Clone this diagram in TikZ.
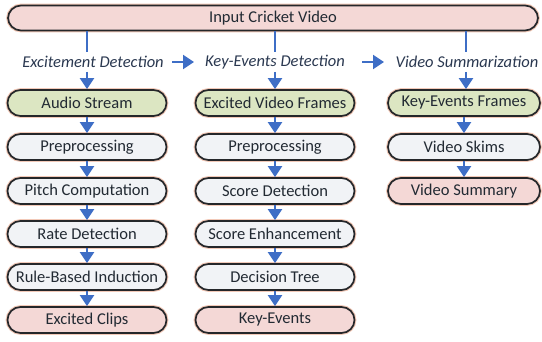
\documentclass[tikz,border=0pt]{standalone}
\usepackage{fontspec}
\setmainfont{Carlito}
\usetikzlibrary{arrows.meta}
\definecolor{boxline}{HTML}{25272A}
\definecolor{txt}{HTML}{222A33}
\definecolor{hdr}{HTML}{2A3850}
\definecolor{arr}{HTML}{3E6EC6}
\definecolor{fgreen}{HTML}{DCE6C2}
\definecolor{fpink}{HTML}{F4D8D6}
\definecolor{fgrey}{HTML}{F1F3F6}
\definecolor{halo}{HTML}{F2C9B8}
\tikzset{
  stepbox/.style={draw=boxline, line width=1.7pt, rounded corners=13pt, minimum width=159pt, minimum height=26pt, inner sep=0pt, text=txt, font=\fontsize{16.5}{17}\selectfont, fill=fgrey,
    preaction={draw=halo, line width=3.8pt}},
  greenbox/.style={stepbox, fill=fgreen},
  pinkbox/.style={stepbox, fill=fpink},
  hdrlabel/.style={text=hdr, font=\fontsize{16.5}{17}\selectfont\itshape, inner sep=0pt},
  flow/.style={draw=arr, line width=2pt, -{Triangle[width=14pt,length=11pt]}},
  plain/.style={draw=arr, line width=1.6pt},
}
\begin{document}
\begin{tikzpicture}[x=1pt,y=-1pt]
\useasboundingbox[fill=white] (0,0) rectangle (542,342);
\node[pinkbox, minimum width=530pt, minimum height=25pt] (top) at (273,18) {Input Cricket Video};
% headers
\node[hdrlabel] (h1) at (93,62) {Excitement Detection};
\node[hdrlabel] (h2) at (275,62) {Key-Events Detection};
\node[hdrlabel] (h3) at (467,62) {Video Summarization};
% column 1
\node[greenbox] (a1) at (87,103) {Audio Stream};
\node[stepbox] (a2) at (87,147) {Preprocessing};
\node[stepbox] (a3) at (87,191) {Pitch Computation};
\node[stepbox] (a4) at (87,234) {Rate Detection};
\node[stepbox] (a5) at (87,277) {Rule-Based Induction};
\node[pinkbox] (a6) at (87,320) {Excited Clips};
% column 2
\node[greenbox] (b1) at (275,103) {Excited Video Frames};
\node[stepbox] (b2) at (275,147) {Preprocessing};
\node[stepbox] (b3) at (275,191) {Score Detection};
\node[stepbox] (b4) at (275,234) {Score Enhancement};
\node[stepbox] (b5) at (275,277) {Decision Tree};
\node[pinkbox] (b6) at (275,320) {Key-Events};
% column 3
\node[greenbox, minimum width=152pt] (c1) at (464,103) {Key-Events Frames};
\node[stepbox, minimum width=152pt] (c2) at (464,147) {Video Skims};
\node[pinkbox, minimum width=152pt] (c3) at (464,191) {Video Summary};
% top connectors
\coordinate (t1) at (87,52);
\coordinate (t2) at (275,52);
\coordinate (t3) at (466,52);
\coordinate (s1) at (87,72);
\coordinate (s2) at (275,72);
\coordinate (s3) at (466,72);
\draw[plain] (top.south -| t1) -- (t1);
\draw[plain] (top.south -| t2) -- (t2);
\draw[plain] (top.south -| t3) -- (t3);
\draw[flow] (s1) -- (a1.north -| s1);
\draw[flow] (s2) -- (b1.north -| s2);
\draw[flow] (s3) -- (c1.north -| s3);
% header arrows
\coordinate (x1) at (172,62);
\coordinate (y1) at (194,62);
\coordinate (x2) at (362,62);
\coordinate (y2) at (384,62);
\draw[flow] (x1) -- (y1);
\draw[flow] (x2) -- (y2);
% flow arrows
\foreach \u/\v in {a1/a2,a2/a3,a3/a4,a4/a5,a5/a6,b1/b2,b2/b3,b3/b4,b4/b5,b5/b6,c1/c2,c2/c3}
  \draw[flow] (\u.south) -- (\v.north);
\end{tikzpicture}
\end{document}
